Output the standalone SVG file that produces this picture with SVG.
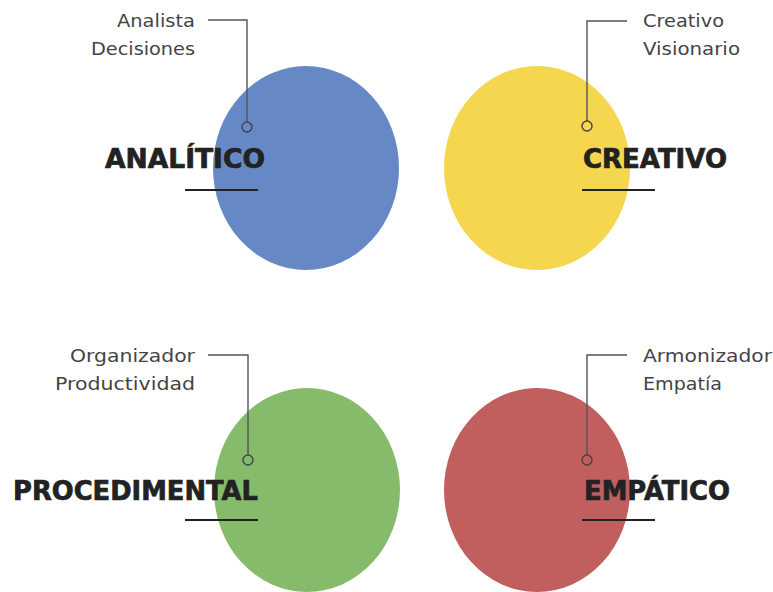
<svg xmlns="http://www.w3.org/2000/svg" width="773" height="592" viewBox="0 0 773 592">
<style>
.title{font-family:"DejaVu Sans","Open Sans",sans-serif;font-weight:700;font-size:26px;fill:#222;stroke:#222;stroke-width:0.7}
.sub{font-family:"DejaVu Sans","Open Sans",sans-serif;font-weight:400;font-size:18px;fill:#444}
.ln{fill:none;stroke:#555;stroke-width:1.4}
.ul{stroke:#222;stroke-width:2}
.dot{fill:none;stroke:#444;stroke-width:1.4}
</style>
<rect width="773" height="592" fill="#fff"/>
<g id="analitico">
<ellipse cx="306" cy="168" rx="93" ry="102" fill="#6689c6"/>
<text class="sub" x="195" y="27" text-anchor="end" textLength="78" lengthAdjust="spacingAndGlyphs">Analista</text>
<text class="sub" x="195" y="55" text-anchor="end" textLength="104" lengthAdjust="spacingAndGlyphs">Decisiones</text>
<text class="title" x="105" y="168" textLength="160" lengthAdjust="spacingAndGlyphs">ANALÍTICO</text>
<line class="ul" x1="185" y1="190" x2="258" y2="190"/>
</g>
<g id="creativo">
<ellipse cx="537" cy="168" rx="93" ry="102" fill="#f4d64f"/>
<text class="sub" x="643" y="27" textLength="81" lengthAdjust="spacingAndGlyphs">Creativo</text>
<text class="sub" x="643" y="55" textLength="97" lengthAdjust="spacingAndGlyphs">Visionario</text>
<text class="title" x="583" y="168" textLength="144" lengthAdjust="spacingAndGlyphs">CREATIVO</text>
<line class="ul" x1="582" y1="190" x2="655" y2="190"/>
</g>
<g id="procedimental">
<ellipse cx="307" cy="490" rx="93" ry="102" fill="#87bb6c"/>
<text class="sub" x="195" y="362" text-anchor="end" textLength="125" lengthAdjust="spacingAndGlyphs">Organizador</text>
<text class="sub" x="195" y="390" text-anchor="end" textLength="140" lengthAdjust="spacingAndGlyphs">Productividad</text>
<text class="title" x="13" y="500" textLength="245" lengthAdjust="spacingAndGlyphs">PROCEDIMENTAL</text>
<line class="ul" x1="185" y1="520" x2="258" y2="520"/>
</g>
<g id="empatico">
<ellipse cx="537" cy="490" rx="93" ry="102" fill="#c05f5d"/>
<text class="sub" x="643" y="362" textLength="129" lengthAdjust="spacingAndGlyphs">Armonizador</text>
<text class="sub" x="643" y="390" textLength="79" lengthAdjust="spacingAndGlyphs">Empatía</text>
<text class="title" x="584" y="500" textLength="146" lengthAdjust="spacingAndGlyphs">EMPÁTICO</text>
<line class="ul" x1="582" y1="520" x2="655" y2="520"/>
</g>
<g id="connectors">
<path class="ln" d="M208 20 H247 V122"/>
<circle class="dot" cx="247" cy="127" r="5"/>
<path class="ln" d="M627 21 H587 V121"/>
<circle class="dot" cx="587" cy="126" r="5"/>
<path class="ln" d="M208 355 H248 V455"/>
<circle class="dot" cx="248" cy="460" r="5"/>
<path class="ln" d="M627 355 H587 V455"/>
<circle class="dot" cx="587" cy="460" r="5"/>
</g>
</svg>
